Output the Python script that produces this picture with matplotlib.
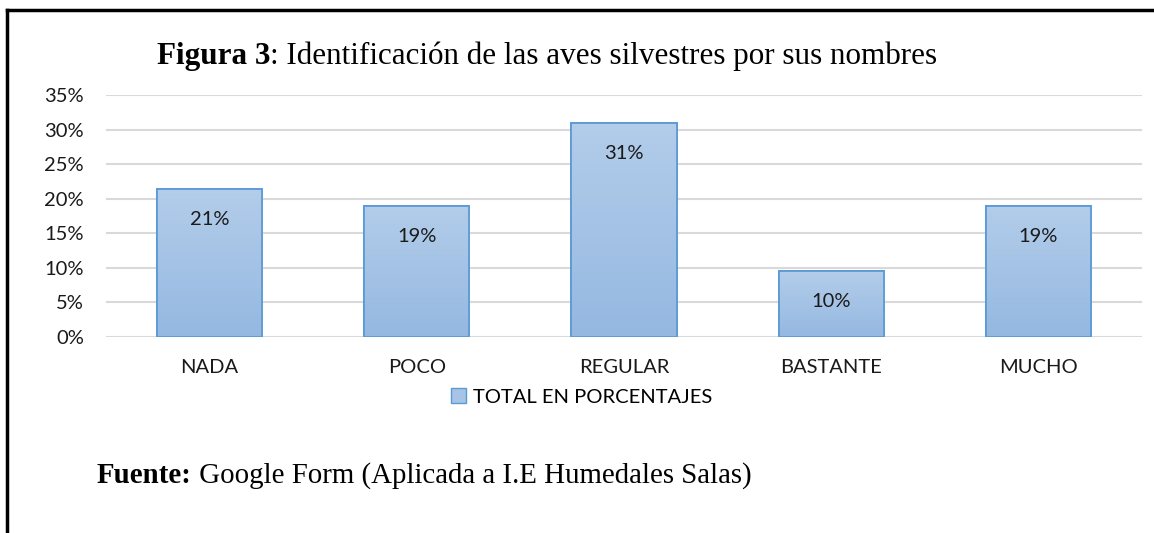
import numpy as np
import matplotlib
matplotlib.use("Agg")
import matplotlib.pyplot as plt
from matplotlib.lines import Line2D
from matplotlib.patches import Patch
from matplotlib.colors import LinearSegmentedColormap
from matplotlib.transforms import offset_copy

categories = ["NADA", "POCO", "REGULAR", "BASTANTE", "MUCHO"]
values = [21.4, 19.0, 31.0, 9.5, 19.0]
labels = ["21%", "19%", "31%", "10%", "19%"]
yticks = [0, 5, 10, 15, 20, 25, 30, 35]
legend_label = "TOTAL EN PORCENTAJES"

sans = ["Lato", "DejaVu Sans"]
serif = ["Liberation Serif", "DejaVu Serif"]

fig = plt.figure(figsize=(11.54, 5.33), dpi=100)
W, H = 1154, 533
# plot area in pixels: x 106..1142, y 95..337
ax = fig.add_axes([106 / W, 1 - 337 / H, (1142 - 106) / W, (337 - 95) / H])

x = np.arange(len(categories))
bars = ax.bar(x, values, width=0.507, color="#a7c3e6", edgecolor="#5b9bd5",
              linewidth=1.3, zorder=3)

# vertical gradient inside each bar
grad = np.linspace(0, 1, 256).reshape(-1, 1)
cmap = LinearSegmentedColormap.from_list("g", ["#95b8e1", "#b3cdea"])
for b in bars:
    x0, y0 = b.get_x(), b.get_y()
    im = ax.imshow(grad, cmap=cmap, origin="lower", aspect="auto",
                   extent=[x0, x0 + b.get_width(), y0, y0 + b.get_height()],
                   zorder=3.5)
    im.set_clip_path(b)
    ax.add_patch(plt.Rectangle((x0, y0), b.get_width(), b.get_height(),
                               fill=False, edgecolor="#5b9bd5",
                               linewidth=1.3, zorder=4))

for xi, v, lab in zip(x, values, labels):
    ax.annotate(lab, (xi, v), xytext=(0, -22), textcoords="offset points",
                ha="center", va="center", fontsize=14.5, family=sans,
                color="#1a1a1a", zorder=5)

ax.set_xlim(-0.5, len(categories) - 0.5)
ax.set_ylim(0, 35)
ax.set_yticks(yticks)
ax.set_yticklabels([f"{t}%" for t in yticks], family=sans, fontsize=14.5,
                   color="#1a1a1a")
ax.set_xticks(x)
ax.set_xticklabels(categories, family=sans, fontsize=14.5, color="#1a1a1a")
ax.tick_params(axis="both", length=0)
ax.tick_params(axis="y", pad=16)
ax.tick_params(axis="x", pad=16)
ax.grid(axis="y", color="#d9d9d9", linewidth=1.5, zorder=0)
for s in ax.spines.values():
    s.set_visible(False)

fig.legend(handles=[Patch(facecolor="#a7c3e6", edgecolor="#5b9bd5")],
           labels=[legend_label], loc="center",
           bbox_to_anchor=(582 / W, 1 - 397 / H), frameon=False,
           prop={"family": sans, "size": 14.5}, handlelength=0.75,
           handleheight=0.75, handletextpad=0.35)

renderer = fig.canvas.get_renderer()


def two_part(xp, yp, bold, rest, size):
    t1 = fig.text(xp / W, 1 - yp / H, bold, family=serif, fontsize=size,
                  fontweight="bold", va="baseline", ha="left")
    w = t1.get_window_extent(renderer).width
    tr = offset_copy(fig.transFigure, fig=fig, x=w, y=0, units="dots")
    fig.text(xp / W, 1 - yp / H, rest, family=serif, fontsize=size,
             va="baseline", ha="left", transform=tr)


two_part(157, 64, "Figura 3", ": Identificación de las aves silvestres por sus nombres", 22.4)
two_part(97, 483, "Fuente:", " Google Form (Aplicada a I.E Humedales Salas)", 20.8)

# border (top and left)
fig.add_artist(Line2D([7 / W, 7 / W], [0, 1 - 10 / H], color="black",
                      linewidth=2.5, transform=fig.transFigure))
fig.add_artist(Line2D([7 / W, 1], [1 - 10 / H, 1 - 10 / H], color="black",
                      linewidth=2.5, transform=fig.transFigure))

fig.savefig("out.png", dpi=100)
